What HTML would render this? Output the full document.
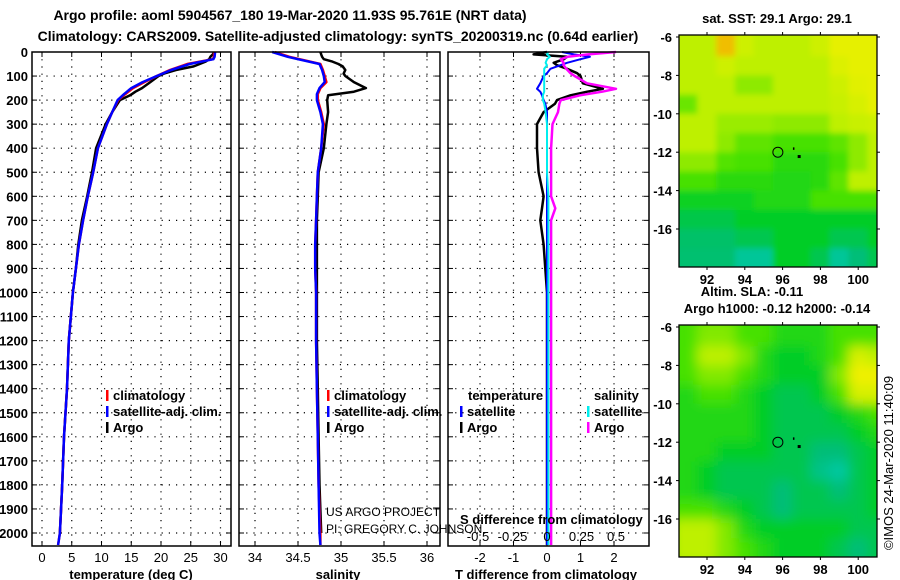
<!DOCTYPE html>
<html><head><meta charset="utf-8"><style>
html,body{margin:0;padding:0;background:#fff;}
svg{display:block;font-family:"Liberation Sans",Arial,sans-serif;}
.b{font-weight:bold;font-size:13px;}
</style></head><body>
<svg id="c" width="900" height="580" viewBox="0 0 900 580" xmlns="http://www.w3.org/2000/svg">
<text x="290" y="20" text-anchor="middle" class="b" style="font-size:14px">Argo profile: aoml 5904567_180 19-Mar-2020 11.93S 95.761E (NRT data)</text>
<text x="338" y="41" text-anchor="middle" class="b" style="font-size:14px">Climatology: CARS2009. Satellite-adjusted climatology: synTS_20200319.nc (0.64d earlier)</text>
<text x="777" y="23" text-anchor="middle" class="b">sat. SST: 29.1 Argo: 29.1</text>
<text x="752" y="296" text-anchor="middle" class="b">Altim. SLA: -0.11</text>
<text x="777" y="313" text-anchor="middle" class="b">Argo h1000: -0.12 h2000: -0.14</text>
<text transform="translate(893,463) rotate(-90)" text-anchor="middle" style="font-size:13px">©IMOS 24-Mar-2020 11:40:09</text>
</svg>
<script>
// ---------- data ----------
const climDepth=[0,20,30,50,75,100,125,150,175,200,250,300,400,500,600,700,800,900,1000,1200,1400,1600,1800,2000,2050];
const climTemp=[28.9,28.9,28.7,24.4,21.5,19.3,17.2,15.3,14.0,12.8,11.8,10.9,9.4,8.6,7.7,6.9,6.2,5.7,5.2,4.5,4.2,3.7,3.4,3.0,2.7];
const satTemp=[29.1,29.0,28.8,24.8,21.7,19.3,16.9,15.0,13.8,12.7,11.8,10.9,9.4,8.6,7.7,6.9,6.2,5.7,5.2,4.5,4.2,3.7,3.4,3.0,2.7];
const argoDepth=[0,10,20,30,40,50,60,75,90,100,125,150,165,180,200,250,300,400,500,600,700,800,900,1000,1200,1400,1600,1800,2000];
const argoTemp=[28.9,28.7,28.3,28.1,27.5,26.5,25.5,22.5,20.5,19.6,18.2,16.8,15.7,14.8,13.1,11.8,10.7,9.1,8.4,7.6,6.7,6.1,5.7,5.2,4.5,4.2,3.7,3.4,3.0];
const climSal=[34.23,34.4,34.52,34.76,34.79,34.81,34.83,34.76,34.73,34.73,34.77,34.8,34.77,34.73,34.72,34.71,34.7,34.7,34.71,34.71,34.72,34.73,34.74,34.76,34.76];
const satSal=[34.2,34.38,34.5,34.75,34.78,34.8,34.81,34.75,34.72,34.72,34.76,34.79,34.77,34.73,34.72,34.71,34.7,34.7,34.71,34.71,34.72,34.73,34.74,34.75,34.76];
const argoSal=[34.76,34.77,34.78,34.8,34.9,34.97,35.02,35.05,35.03,35.05,35.15,35.29,35.15,34.85,34.84,34.85,34.83,34.8,34.74,34.73,34.72,34.72,34.72,34.72,34.72,34.73,34.74,34.75,34.77];
const dDepth=[0,10,20,30,45,55,70,88,100,130,153,165,180,200,215,250,300,400,500,600,650,700,800,1000,1500,2000,2050];
const satTdiff=[0.45,0.8,1.28,1.0,0.6,0.4,0.1,0.0,-0.1,-0.2,-0.3,-0.2,-0.15,-0.1,-0.05,0,0,0,0,0,0,0,0,0,0,0,0];
const argoTdiff=[0,-0.4,0.6,0.5,0.2,0.3,0.6,0.9,1.0,1.07,1.67,1.2,0.7,0.3,0.24,-0.1,-0.3,-0.3,-0.25,-0.1,-0.15,-0.2,-0.1,0,0,0,0];
const satSdiff=[0.01,0.0,0.02,0.0,-0.01,0.0,-0.02,-0.02,-0.02,-0.02,-0.02,-0.02,-0.03,-0.03,-0.02,-0.01,0.0,0.0,0.0,0.01,0.01,0.01,0.01,0.01,0.01,0.01,0.01];
const argoSdiff=[0.5,0.3,0.15,0.1,0.12,0.12,0.14,0.17,0.2,0.29,0.5,0.4,0.24,0.1,0.09,0.08,0.04,0.03,0.03,0.03,0.06,0.03,0.03,0.03,0.03,0.03,0.03];
const depthTicks=[0,100,200,300,400,500,600,700,800,900,1000,1100,1200,1300,1400,1500,1600,1700,1800,1900,2000];
const tempTicks=[0,5,10,15,20,25,30];
const salTicks=[34,34.5,35,35.5,36];
const salTickLabels=["34","34.5","35","35.5","36"];
const tdTicks=[-2,-1,0,1,2];
const sdTicks=[-0.5,-0.25,0,0.25,0.5];
const sdTickLabels=["-0.5","-0.25","0","0.25","0.5"];
const latTicks=[-6,-8,-10,-12,-14,-16];
const lonTicks=[92,94,96,98,100];
// map grids: rows lat -6..-18 (1 deg), cols lon 90.5..101 (1 deg), colour level 0..6
const sstGrid=[
[4,4,5.5,4.3,4,4,4,4.3,4.8,4.8,4.8],[4,4,4.3,4,4,4,4,4,4.6,4.8,4.8],[4,4,4,3.6,3.6,4,4,4,4.3,4.7,4.8],[3.3,4,4,4,4,4,4,4,4.2,4.5,4.8],
[4,4,3.7,3.7,3.7,3.6,3.6,3.6,4,4.2,4.3],[4,4,3.6,3.2,3.2,3,3,3,3.2,3.6,4],[3.6,3.6,3.1,3,3,2.6,2.6,2.6,3,3.6,4],[3,3,2.6,2.6,2.6,2.5,2.5,2.6,3.2,4,4],
[2.2,2.2,2.2,2.2,2.5,2.5,2.5,3,3,3,3],[1.6,1.6,1.6,2,2,2,2,2,2,2,2],[1.2,1.2,1.2,1.5,1.5,2,2,2,1.5,1.5,2],[1.1,1.1,1.1,0.6,0.6,2,2,1.5,0.6,1,1.5]];
const slaGrid=[
[3,3.5,3.5,3,3,2.5,2.5,2.5,3,3,3],[3,4,4,3.5,2.5,2,2,2.5,3,4.5,4],[3,3.5,3.5,3,2.5,2,2,2,3.5,5,5],[2.5,3,3,2.5,2,1.5,1.5,2,3,4.5,4.5],
[2.5,2.5,2.5,2.5,2,1.5,1.5,1.5,2,2.5,3],[2.5,2.5,2.5,2.5,2,1.5,1.5,1.5,1.5,2,2.5],[2.5,2.5,2,2,2,1.5,1.5,1,1,1.5,2],[2.5,2,1.5,1.5,1.5,1.5,1.5,0.8,0.5,1.5,2],
[2.5,2,1.5,1.5,1.5,1,1.5,1.5,1,1.5,2],[3,3,2.5,2,1.5,1,1.5,1.5,1.5,1.5,2],[4,4,3.5,2.5,2,2,2,2,2,1.5,1.5],[4,4,3.5,3,2.5,2,2,2,1.5,1,1.5]];
const floatLon=[95.75,96.6,96.85];
const floatLat=[-12.0,-11.8,-12.2];

// ---------- drawing ----------
const svg=document.getElementById('c');
const NS='http://www.w3.org/2000/svg';
function mk(tag,attrs,parent){const e=document.createElementNS(NS,tag);for(const k in attrs)e.setAttribute(k,attrs[k]);(parent||svg).appendChild(e);return e;}
function txt(x,y,s,anchor,cls,parent){const t=mk('text',{x:x,y:y,'text-anchor':anchor||'start'},parent);if(cls)t.setAttribute('class',cls);t.textContent=s;return t;}
const TOP=52,BOT=546;
const yD=d=>TOP+d*0.2405;
function panel(x0,x1,name){
  const g=mk('g',{});
  
  
  return g;
}
function frame(g,x0,x1,xs,xf){
  depthTicks.forEach(d=>{const y=yD(d);if(d>0){const l=mk('line',{x1:x0,x2:x1,y1:y,y2:y,stroke:'#000','stroke-width':1.2,'stroke-dasharray':'1.2,6'},g);}
    mk('line',{x1:x0,x2:x0+5,y1:y,y2:y,stroke:'#000'},g);mk('line',{x1:x1-5,x2:x1,y1:y,y2:y,stroke:'#000'},g);});
  xs.forEach(v=>{const x=xf(v);const l=mk('line',{x1:x,x2:x,y1:TOP,y2:BOT,stroke:'#000','stroke-width':1.2,'stroke-dasharray':'1.2,6'},g);
    mk('line',{x1:x,x2:x,y1:BOT-5,y2:BOT,stroke:'#000'},g);mk('line',{x1:x,x2:x,y1:TOP,y2:TOP+5,stroke:'#000'},g);});
}
function border(g,x0,x1){const r=mk('rect',{x:x0,y:TOP,width:x1-x0,height:BOT-TOP,fill:'none',stroke:'#000','stroke-width':1.5},g);}
function line(g,xs,ds,xf,col,w,name){
  const pts=xs.map((v,i)=>xf(v).toFixed(1)+','+yD(ds[i]).toFixed(1)).join(' ');
  const p=mk('polyline',{points:pts,fill:'none',stroke:col,'stroke-width':w,'stroke-linejoin':'round'},g);
  
  
}
function legend(g,x,y,col,label){
  mk('rect',{x:x,y:y-10,width:2.5,height:11,fill:col},g);
  const t=txt(x+7,y,label,'start','b',g);
  
  
}
// panel 1: temperature
const xT=v=>42+v*5.95;
const g1=panel(32,231,'temperature-panel');
frame(g1,32,231,tempTicks,xT);
line(g1,argoTemp,argoDepth,xT,'#000',2.5,'argo-temperature-line');
line(g1,climTemp,climDepth,xT,'#f00',2.5,'climatology-temperature-line');
line(g1,satTemp,climDepth,xT,'#00f',2.5,'satellite-temperature-line');
border(g1,32,231);
depthTicks.forEach(d=>{const t=txt(28,yD(d)+5,String(d),'end','b',g1);});
tempTicks.forEach(v=>{const t=txt(xT(v),562,String(v),'middle',null,g1);t.setAttribute('style','font-size:13px');});
const xl1=txt(131,579,'temperature (deg C)','middle','b',g1);
legend(g1,106,400,'#f00','climatology');legend(g1,106,416,'#00f','satellite-adj. clim.');legend(g1,106,432,'#000','Argo');
// panel 2: salinity
const xS=v=>255+(v-34)*86;
const g2=panel(239,440,'salinity-panel');
frame(g2,239,440,salTicks,xS);
line(g2,argoSal,argoDepth,xS,'#000',2.5,'argo-salinity-line');
line(g2,climSal,climDepth,xS,'#f00',2.5,'climatology-salinity-line');
line(g2,satSal,climDepth,xS,'#00f',2.5,'satellite-salinity-line');
border(g2,239,440);
salTicks.forEach((v,i)=>{const t=txt(xS(v),562,salTickLabels[i],'middle',null,g2);t.setAttribute('style','font-size:13px');});
const xl2=txt(338,579,'salinity','middle','b',g2);
legend(g2,327,400,'#f00','climatology');legend(g2,327,416,'#00f','satellite-adj. clim.');legend(g2,327,432,'#000','Argo');
const pr1=txt(326,516,'US ARGO PROJECT','start',null,g2);pr1.setAttribute('style','font-size:12px');
const pr2=txt(326,533,'PI: GREGORY C. JOHNSON','start',null,g2);pr2.setAttribute('style','font-size:12px');
// panel 3: differences
const xTd=v=>547+v*33.5;
const xSd=v=>547+v*138;
const g3=panel(448,649,'difference-panel');
frame(g3,448,649,tdTicks,xTd);
line(g3,argoTdiff,dDepth,xTd,'#000',2.5,'argo-temp-diff-line');
line(g3,satTdiff,dDepth,xTd,'#00f',2,'satellite-temp-diff-line');
line(g3,argoSdiff,dDepth,xSd,'#f0f',2.5,'argo-sal-diff-line');
line(g3,satSdiff,dDepth,xSd,'#0ee',2,'satellite-sal-diff-line');
border(g3,448,649);
tdTicks.forEach(v=>{const t=txt(xTd(v),562,String(v),'middle',null,g3);t.setAttribute('style','font-size:13px');});
sdTicks.forEach((v,i)=>{const t=txt(xSd(v),541,sdTickLabels[i],'middle',null,g3);t.setAttribute('style','font-size:13px');});
const sdt=txt(460,524,'S difference from climatology','start','b',g3);
const xl3=txt(546,579,'T difference from climatology','middle','b',g3);
const lh1=txt(468,400,'temperature','start','b',g3);
const lh2=txt(594,400,'salinity','start','b',g3);
legend(g3,460,416,'#00f','satellite');legend(g3,460,432,'#000','Argo');
legend(g3,587,416,'#0ee','satellite');legend(g3,587,432,'#f0f','Argo');
// maps
const levels=[[0,210,200],[0,190,120],[0,205,40],[70,225,0],[190,240,0],[240,240,0],[240,140,0]];
function col(v){const i=Math.min(5,Math.floor(v)),f=v-i;const a=levels[i],b=levels[i+1];return 'rgb('+a.map((c,k)=>Math.round(c+(b[k]-c)*f)).join(',')+')';}
function map(y0,grid,name,filt){
  const X0=679,X1=877,Y1=y0+232;
  const xL=lon=>707+(lon-92)*18.9;
  const yL=lat=>y0+2+(-6-lat)*19.2;
  const g=mk('g',{});
  
  
  const cid='clip'+name;
  const cp=mk('clipPath',{id:cid},g);mk('rect',{x:X0,y:y0,width:X1-X0,height:Y1-y0},cp);
  const cg=mk('g',{'clip-path':'url(#'+cid+')'},g);
  mk('rect',{x:X0,y:y0,width:X1-X0,height:Y1-y0,fill:col(2.5)},cg);
  const ig=mk('g',{filter:'url(#'+filt+')'},cg);
  grid.forEach((row,r)=>row.forEach((v,c)=>{
    const lon=90.5+c,lat=-6-r;
    const x=xL(lon)-0.3-(c===0?8:0);
    const cell=mk('rect',{x:x,y:yL(lat)-(r===0?8:0),width:19.5+(c===0?8:0)+(c===row.length-1?8:0),height:19.6+(r===0?8:0)+(r===grid.length-1?8:0),fill:col(v)},ig);
    
    
  }));
  floatLon.forEach((lon,i)=>{
    if(i===0){const c=mk('circle',{cx:xL(lon),cy:yL(floatLat[i]),r:5,fill:'none',stroke:'#000','stroke-width':1},g);}
    else{const d=mk('rect',{x:xL(lon)-1,y:yL(floatLat[i])-1,width:i===2?3:1.5,height:i===2?3:2.5,fill:'#000'},g);}
  });
  mk('rect',{x:X0,y:y0,width:X1-X0,height:Y1-y0,fill:'none',stroke:'#000','stroke-width':1.3},g);
  latTicks.forEach(l=>{const y=yL(l);mk('line',{x1:X0-3,x2:X0,y1:y,y2:y,stroke:'#000'},g);mk('line',{x1:X1,x2:X1+3,y1:y,y2:y,stroke:'#000'},g);
    const t=txt(X0-7,y+5,String(l),'end','b',g);});
  lonTicks.forEach(l=>{const x=xL(l);mk('line',{x1:x,x2:x,y1:y0-3,y2:y0,stroke:'#000'},g);mk('line',{x1:x,x2:x,y1:Y1,y2:Y1+3,stroke:'#000'},g);
    const t=txt(x,Y1+17,String(l),'middle','b',g);});
}
const defs=mk('defs',{});
const f=mk('filter',{id:'bl',x:'-5%',y:'-5%',width:'110%',height:'110%'},defs);mk('feGaussianBlur',{stdDeviation:6},f);
const f2=mk('filter',{id:'bl2',x:'-5%',y:'-5%',width:'110%',height:'110%'},defs);mk('feGaussianBlur',{stdDeviation:3},f2);
map(35,sstGrid,'sst-map','bl2');
map(325,slaGrid,'sla-map','bl');
</script>
</body></html>
